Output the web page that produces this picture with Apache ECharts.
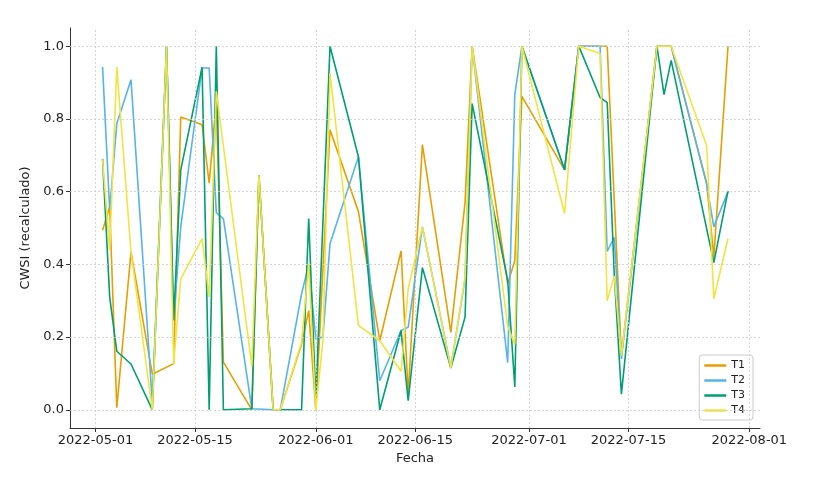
<!DOCTYPE html>
<html>
<head>
<meta charset="utf-8">
<script src="https://cdn.jsdelivr.net/npm/echarts@6/dist/echarts.min.js"></script>
<style>
  html, body { margin: 0; padding: 0; background: #fff; }
  #chart { width: 820px; height: 478px; }
</style>
</head>
<body>
<div id="chart"></div>
<script>
// ---- data ----
var dates = ['2022-05-02','2022-05-03','2022-05-04','2022-05-06','2022-05-09','2022-05-11','2022-05-12','2022-05-13',
  '2022-05-16','2022-05-17','2022-05-18','2022-05-19','2022-05-23','2022-05-24','2022-05-26','2022-05-27',
  '2022-05-30','2022-05-31','2022-06-01','2022-06-02','2022-06-03','2022-06-07','2022-06-10','2022-06-13',
  '2022-06-14','2022-06-16','2022-06-20','2022-06-22','2022-06-23','2022-06-28','2022-06-29','2022-06-30',
  '2022-07-06','2022-07-08','2022-07-11','2022-07-12','2022-07-13','2022-07-14','2022-07-19','2022-07-20',
  '2022-07-21','2022-07-26','2022-07-27','2022-07-29'];
var T1 = [0.494,0.558,0.006,0.434,0.098,null,0.127,0.805,
  0.784,0.623,0.85,0.131,0.0,0.645,0.0,0.0,
  0.18,0.273,0.0,null,0.77,0.545,0.19,0.437,
  0.043,0.729,0.213,0.57,1.0,0.347,0.41,0.862,
  0.66,1.0,1.0,1.0,null,0.149,1.0,1.0,
  1.0,0.623,0.42,1.0];
var T2 = [0.943,0.55,0.787,0.908,0.02,1.0,0.25,0.503,
  0.94,0.94,0.542,0.526,0.003,null,0.0,0.0,
  0.319,0.40,0.195,0.2,0.457,0.696,0.08,0.218,
  0.227,0.503,0.117,0.36,1.0,0.13,0.867,1.0,
  0.66,1.0,1.0,0.436,0.474,0.14,1.0,1.0,
  1.0,0.62,0.503,0.60];
var T3 = [0.69,0.31,0.161,0.126,0.0,1.0,0.246,0.66,
  0.942,0.0,1.0,0.0,0.003,0.645,0.0,0.0,
  0.0,0.526,0.03,null,1.0,0.696,0.0,0.218,
  0.025,0.391,0.115,0.255,0.842,0.356,0.063,1.0,
  0.66,1.0,0.859,0.845,0.37,0.043,1.0,0.867,
  0.961,null,0.405,0.602];
var T4 = [0.689,0.439,0.943,0.434,0.0,1.0,0.126,0.36,
  0.471,0.31,0.876,null,0.121,0.645,0.0,0.0,
  0.186,0.402,0.0,0.19,0.926,0.232,0.19,0.106,
  0.333,0.503,0.115,0.365,1.0,0.23,0.18,1.0,
  0.54,1.0,0.98,0.30,0.368,0.149,1.0,1.0,
  1.0,0.726,0.305,0.471];
var seriesNames = ['T1','T2','T3','T4'];
var seriesColors = ['#E69F00','#56B4E9','#009E73','#F0E442'];
var xTickDates = ['2022-05-01','2022-05-15','2022-06-01','2022-06-15','2022-07-01','2022-07-15','2022-08-01'];
var yTicks = [0.0,0.2,0.4,0.6,0.8,1.0];

// ---- helpers ----
function ts(s) { var p = s.split('-'); return new Date(+p[0], +p[1]-1, +p[2]).getTime(); }
function pad(n) { return n < 10 ? '0' + n : '' + n; }
function fmt(v) { var d = new Date(v); return d.getFullYear() + '-' + pad(d.getMonth()+1) + '-' + pad(d.getDate()); }

var xTicks = xTickDates.map(ts);
var xMin = new Date(2022, 3, 27, 10).getTime();
var xMax = new Date(2022, 7, 2, 12).getTime();
var allSeries = [T1, T2, T3, T4];

var gridStyle = { color: '#cccccc', width: 0.8, type: [2, 2] };
var gridLines = xTicks.map(function (t) { return { xAxis: t }; })
  .concat(yTicks.map(function (v) { return { yAxis: v }; }));

var series = [{
  name: '_grid', type: 'line', z: 1, silent: true,
  data: dates.map(function (d) { return [ts(d), 0.5]; }),
  showSymbol: false, lineStyle: { opacity: 0 },
  markLine: { silent: true, symbol: 'none', label: { show: false }, lineStyle: gridStyle,
    animation: false, data: gridLines }
}];
allSeries.forEach(function (vals, k) {
  series.push({
    name: seriesNames[k], type: 'line', z: 2 + k,
    data: dates.map(function (d, i) { return [ts(d), vals[i]]; }),
    connectNulls: true, showSymbol: false, symbol: 'none',
    color: seriesColors[k],
    lineStyle: { color: seriesColors[k], width: 1.6 }
  });
});

var chart = echarts.init(document.getElementById('chart'), null, { renderer: 'canvas' });
chart.setOption({
  animation: false,
  backgroundColor: '#ffffff',
  textStyle: { fontFamily: 'DejaVu Sans' },
  grid: { left: 70, right: 60, top: 28, bottom: 50, containLabel: false },
  xAxis: {
    type: 'value', min: xMin, max: xMax, scale: true,
    name: 'Fecha', nameLocation: 'middle', nameGap: 22,
    nameTextStyle: { fontSize: 13, color: '#222', fontFamily: 'DejaVu Sans' },
    axisLine: { show: true, onZero: false, lineStyle: { color: '#333', width: 1 } },
    axisTick: { show: true, customValues: xTicks, length: 4, lineStyle: { color: '#333' } },
    axisLabel: { customValues: xTicks, formatter: function (v) { return fmt(v); },
      fontSize: 13, color: '#222', margin: 6 },
    splitLine: { show: false }
  },
  yAxis: {
    type: 'value', min: -0.05, max: 1.05,
    name: 'CWSI (recalculado)', nameLocation: 'middle', nameGap: 34, nameRotate: 90,
    nameTextStyle: { fontSize: 13, color: '#222', fontFamily: 'DejaVu Sans' },
    axisLine: { show: true, onZero: false, lineStyle: { color: '#333', width: 1 } },
    axisTick: { show: true, customValues: yTicks, length: 4, lineStyle: { color: '#333' } },
    axisLabel: { customValues: yTicks, formatter: function (v) { return v.toFixed(1); },
      fontSize: 13, color: '#222', margin: 6 },
    splitLine: { show: false }
  },
  legend: {
    data: seriesNames, orient: 'vertical', right: 67, bottom: 58,
    backgroundColor: '#ffffff', borderColor: '#cccccc', borderWidth: 1, borderRadius: 3,
    padding: [5, 8, 4, 5], itemGap: 4, itemWidth: 22, itemHeight: 2.5, icon: 'rect',
    textStyle: { fontSize: 11, color: '#222', fontFamily: 'DejaVu Sans' }
  },
  series: series
});
</script>
</body>
</html>
